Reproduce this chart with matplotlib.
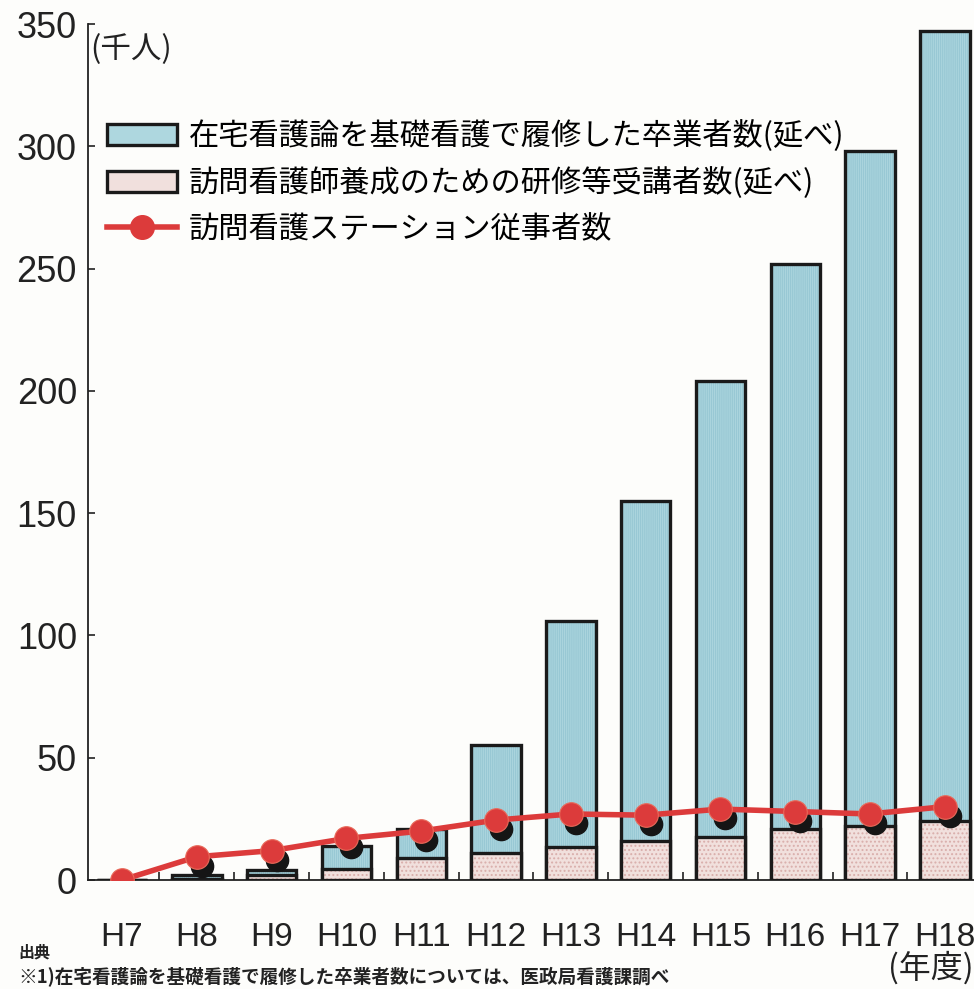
import matplotlib
matplotlib.use("Agg")
import matplotlib.pyplot as plt
import matplotlib.transforms as mtransforms
from matplotlib.patches import Patch
from matplotlib.lines import Line2D

plt.rcParams['font.family'] = ['Noto Sans CJK JP', 'DejaVu Sans']

years = ['H7', 'H8', 'H9', 'H10', 'H11', 'H12', 'H13', 'H14', 'H15', 'H16', 'H17', 'H18']
graduates = [0, 2, 4, 14, 21, 55, 106, 155, 204, 252, 298, 347]
trainees = [0, 0.5, 2, 4.5, 9, 11, 13.5, 16, 17.5, 21, 22, 24]
station_staff = [0, 9.5, 12, 17, 20, 24.5, 27, 26.5, 29, 28, 27, 30]

label_grad = '在宅看護論を基礎看護で履修した卒業者数(延べ)'
label_train = '訪問看護師養成のための研修等受講者数(延べ)'
label_staff = '訪問看護ステーション従事者数'

narrow = ['Liberation Sans', 'DejaVu Sans']

blue_fill = '#aed7df'
blue_hatch = '#98c8d4'
pink_fill = '#f1e0dd'
pink_hatch = '#d9aeab'
red = '#dc3b3b'
plt.rcParams['hatch.linewidth'] = 0.9

fig = plt.figure(figsize=(9.74, 9.89), dpi=100)
fig.patch.set_facecolor('#fdfdfb')
ax = fig.add_axes([88 / 974, 109 / 989, 886 / 974, 856 / 989])
ax.set_facecolor('none')

x = list(range(len(years)))
w = 0.66

# blue bars: fill + hatch, then black outline
ax.bar(x, graduates, w, color=blue_fill, edgecolor=blue_hatch, hatch='|' * 8, linewidth=0, zorder=2)
ax.bar(x, graduates, w, fill=False, edgecolor='#1a1a1a', linewidth=2.4, zorder=3)
# pink bars in front
ax.bar(x, trainees, w, color=pink_fill, edgecolor=pink_hatch, hatch='....', linewidth=0, zorder=4)
ax.bar(x, trainees, w, fill=False, edgecolor='#1a1a1a', linewidth=2.4, zorder=5)

# shadow under markers
shadow = mtransforms.offset_copy(ax.transData, fig=fig, x=5, y=-9, units='dots')
ax.plot(x, station_staff, 'o', color='#151515', markersize=16, transform=shadow, zorder=6)
ax.plot(x, station_staff, '-o', color=red, linewidth=4, markersize=17,
        markeredgecolor='#e86a5a', markeredgewidth=0.8, zorder=7)

ax.set_xlim(-0.455, 11.39)
ax.set_ylim(0, 350)
ax.set_yticks([0, 50, 100, 150, 200, 250, 300, 350])
ax.set_xticks(x)
ax.set_xticklabels(years)
ax.set_xticks([i + 0.5 for i in range(len(years) - 1)], minor=True)

for s in ['top', 'right']:
    ax.spines[s].set_visible(False)
for s in ['left', 'bottom']:
    ax.spines[s].set_linewidth(1.3)
    ax.spines[s].set_color('#222222')

ax.tick_params(axis='y', direction='in', length=5, width=1.2, pad=8, labelsize=26, colors='#222222')
ax.tick_params(axis='x', which='major', length=0, pad=30, labelsize=24, colors='#222222')
ax.tick_params(axis='x', which='minor', direction='in', length=6, width=1.2, color='#222222')
for t in ax.get_yticklabels() + ax.get_xticklabels():
    t.set_family(narrow)

handles = [
    Patch(facecolor=blue_fill, edgecolor='#1a1a1a', linewidth=2.4),
    Patch(facecolor=pink_fill, edgecolor='#1a1a1a', linewidth=2.4),
    Line2D([], [], color=red, linewidth=4, marker='o', markersize=17),
]
ax.legend(handles, [label_grad, label_train, label_staff], loc='upper left',
          bbox_to_anchor=(0.022, 0.888), frameon=False, fontsize=21.8,
          handlelength=2.3, handleheight=0.7, handletextpad=0.4,
          labelspacing=0.5, borderaxespad=0, borderpad=0)

fig.text(90 / 974, 1 - 50 / 989, '(千人)', fontsize=22, va='center', ha='left', color='#222222')
fig.text(974 / 974, 1 - 968 / 989, '(年度)', fontsize=23, va='center', ha='right', color='#222222')
fig.text(18 / 974, 1 - 952 / 989, '出典', fontsize=11.5, va='center', ha='left', weight='bold', color='#222222')
fig.text(18 / 974, 1 - 976 / 989, '※1)在宅看護論を基礎看護で履修した卒業者数については、医政局看護課調べ',
         fontsize=13.4, va='center', ha='left', weight='bold', color='#222222')

fig.savefig('out.png', dpi=100, facecolor=fig.get_facecolor())
plt.close(fig)
